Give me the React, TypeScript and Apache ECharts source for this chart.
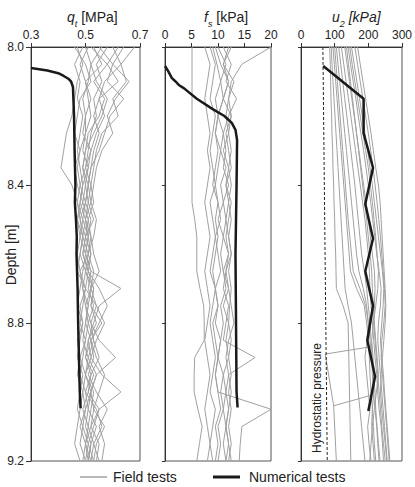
import React, { useEffect, useRef } from 'react';
import * as echarts from 'echarts';

// Shared depth grid for field tests [m]
const depthGrid = [8.0, 8.05, 8.1, 8.15, 8.2, 8.25, 8.3, 8.35, 8.4, 8.45, 8.5, 8.55, 8.6, 8.65, 8.7, 8.75, 8.8, 8.85, 8.9, 8.95, 9.0, 9.05, 9.1, 9.15, 9.2];

// q_t field tests [MPa]
const qtF1 = [0.52, 0.58, 0.62, 0.55, 0.57, 0.54, 0.52, 0.51, 0.50, 0.51, 0.50, 0.52, 0.51, 0.50, 0.53, 0.52, 0.54, 0.51, 0.52, 0.50, 0.53, 0.52, 0.51, 0.53, 0.52];
const qtF2 = [0.68, 0.63, 0.65, 0.60, 0.62, 0.56, 0.54, 0.53, 0.52, 0.53, 0.51, 0.52, 0.53, 0.55, 0.52, 0.50, 0.51, 0.53, 0.55, 0.52, 0.50, 0.54, 0.56, 0.53, 0.55];
const qtF3 = [0.47, 0.49, 0.47, 0.46, 0.45, 0.43, 0.42, 0.41, 0.45, 0.47, 0.48, 0.49, 0.48, 0.50, 0.49, 0.51, 0.50, 0.49, 0.51, 0.50, 0.49, 0.50, 0.48, 0.50, 0.49];
const qtF4 = [0.55, 0.60, 0.58, 0.64, 0.59, 0.57, 0.55, 0.52, 0.51, 0.50, 0.52, 0.51, 0.50, 0.52, 0.63, 0.55, 0.53, 0.51, 0.50, 0.52, 0.51, 0.49, 0.51, 0.50, 0.52];
const qtF5 = [0.49, 0.46, 0.48, 0.47, 0.49, 0.48, 0.47, 0.48, 0.49, 0.48, 0.50, 0.49, 0.51, 0.48, 0.49, 0.50, 0.52, 0.55, 0.61, 0.54, 0.52, 0.50, 0.49, 0.51, 0.50];
const qtF6 = [0.62, 0.58, 0.53, 0.57, 0.55, 0.51, 0.50, 0.49, 0.50, 0.49, 0.51, 0.50, 0.49, 0.51, 0.50, 0.54, 0.57, 0.54, 0.52, 0.56, 0.63, 0.55, 0.52, 0.50, 0.51];
const qtF7 = [0.50, 0.52, 0.51, 0.49, 0.50, 0.50, 0.48, 0.47, 0.48, 0.50, 0.49, 0.51, 0.50, 0.49, 0.48, 0.47, 0.49, 0.48, 0.47, 0.49, 0.48, 0.47, 0.49, 0.48, 0.50];
const qtF8 = [0.58, 0.54, 0.56, 0.53, 0.54, 0.52, 0.51, 0.50, 0.52, 0.51, 0.53, 0.50, 0.52, 0.51, 0.55, 0.58, 0.55, 0.52, 0.53, 0.51, 0.54, 0.58, 0.55, 0.57, 0.56];
const qtF9 = [0.46, 0.50, 0.52, 0.48, 0.47, 0.46, 0.48, 0.46, 0.47, 0.49, 0.47, 0.48, 0.47, 0.48, 0.50, 0.49, 0.48, 0.50, 0.49, 0.48, 0.50, 0.51, 0.50, 0.52, 0.51];
const qtF10 = [0.53, 0.56, 0.50, 0.52, 0.50, 0.49, 0.52, 0.50, 0.48, 0.47, 0.49, 0.48, 0.50, 0.52, 0.51, 0.53, 0.51, 0.50, 0.48, 0.50, 0.52, 0.53, 0.57, 0.54, 0.53];
const qtF11 = [0.60, 0.63, 0.57, 0.55, 0.53, 0.55, 0.53, 0.52, 0.51, 0.52, 0.50, 0.51, 0.52, 0.50, 0.52, 0.51, 0.50, 0.52, 0.54, 0.57, 0.55, 0.53, 0.52, 0.55, 0.54];
const qtF12 = [0.51, 0.48, 0.50, 0.51, 0.52, 0.50, 0.49, 0.51, 0.49, 0.48, 0.47, 0.49, 0.48, 0.47, 0.50, 0.48, 0.49, 0.47, 0.48, 0.47, 0.49, 0.48, 0.47, 0.46, 0.48];
const qtF13 = [0.56, 0.52, 0.54, 0.58, 0.56, 0.53, 0.50, 0.49, 0.51, 0.50, 0.48, 0.50, 0.49, 0.51, 0.53, 0.52, 0.56, 0.52, 0.50, 0.53, 0.51, 0.55, 0.53, 0.51, 0.53];
const qtF14 = [0.64, 0.60, 0.66, 0.61, 0.58, 0.60, 0.56, 0.54, 0.53, 0.52, 0.54, 0.53, 0.51, 0.53, 0.52, 0.54, 0.52, 0.53, 0.51, 0.54, 0.52, 0.51, 0.54, 0.52, 0.51];
const qtField = [qtF1, qtF2, qtF3, qtF4, qtF5, qtF6, qtF7, qtF8, qtF9, qtF10, qtF11, qtF12, qtF13, qtF14];

// f_s field tests [kPa]
const fsF1 = [5.1, 5.1, 5.1, 5.1, 5.1, 5.1, 5.1, 5.1, 5.1, 5.1, 5.6, 6, 6, 6, 6.6, 7.3, 7.4, 7.4, 5.6, 5.5, 5.5, 6.2, 7, 6.5, 6];
const fsF2 = [7.5, 8.5, 8, 7.5, 8, 8.5, 8, 8.5, 8, 7.5, 8, 8.5, 8, 7.5, 8, 8.5, 8, 7.5, 8, 8.5, 8, 7.5, 8, 8.5, 8];
const fsF3 = [8.5, 9.5, 9, 8.5, 9.5, 9, 8.5, 9, 9.5, 8.5, 9, 9.5, 9, 8.5, 9.5, 9, 8.5, 9, 9.5, 9, 8.5, 9.5, 9, 8.5, 9];
const fsF4 = [9, 9.8, 10.5, 9.5, 10, 9.5, 10.5, 10, 9.5, 10, 10.5, 9.5, 10, 10.5, 9.5, 10, 9.5, 10.5, 10, 9.5, 10, 10.5, 9.5, 10, 9.5];
const fsF5 = [10, 11.5, 10.5, 11, 10, 11, 10.5, 11.5, 10.5, 11, 10, 11, 10.5, 11, 11.5, 10.5, 11, 10.5, 10, 11, 10.5, 11, 10, 10.5, 10];
const fsF6 = [20, 14.5, 12.5, 12, 12.5, 12, 12.5, 12, 12.5, 12, 12.5, 12, 12.5, 12, 12.5, 12.2, 12, 12.5, 12, 12.5, 12, 12.5, 12, 12.5, 12];
const fsF7 = [12, 11, 13, 12, 11.5, 12, 11, 12, 11.5, 12.5, 12, 11.5, 12, 11, 12, 12.5, 13, 12, 11.5, 12, 12.5, 12, 11.5, 12, 11.5];
const fsF8 = [11, 12.5, 11.5, 13.5, 12, 11, 11.5, 11, 12, 11, 11.5, 11, 12, 11.5, 11, 12, 11.5, 11, 17, 12, 11.5, 11, 11.5, 11, 11.5];
const fsF9 = [9.5, 10.5, 12, 11, 10, 9.5, 10, 9.5, 9, 10, 9.5, 10, 9.5, 9, 9.5, 10, 9, 9.5, 10, 9.5, 10, 20, 14.5, 14.2, 14];
const fsF10 = [12.5, 11, 12, 11, 12.5, 11.5, 12, 12.5, 11.5, 12, 11.5, 12, 12.5, 11.5, 12, 11, 12, 11.5, 12, 11, 11.5, 12, 11.5, 12, 12.5];
const fsField = [fsF1, fsF2, fsF3, fsF4, fsF5, fsF6, fsF7, fsF8, fsF9, fsF10];

// u_2 field tests [kPa]
const u2F1 = [85, 87, 88, 89, 91, 92, 94, 95, 97, 98, 100, 101, 103, 104, 105, 125, 140, 141, 142, 143, 144, 145, 146, 147, 148];
const u2F2 = [95, 99, 103, 107, 111, 115, 119, 123, 127, 131, 135, 139, 143, 147, 165, 188, 195, 200, 203, 205, 208, 212, 215, 218, 222];
const u2F3 = [105, 110, 115, 120, 125, 130, 135, 140, 145, 150, 155, 160, 165, 172, 185, 195, 200, 205, 210, 212, 215, 220, 225, 228, 232];
const u2F4 = [112, 118, 124, 130, 136, 142, 148, 154, 160, 165, 170, 175, 180, 188, 195, 200, 205, 208, 212, 215, 220, 222, 226, 230, 235];
const u2F5 = [120, 127, 134, 141, 148, 155, 162, 169, 176, 183, 190, 195, 200, 203, 205, 208, 212, 216, 220, 225, 228, 232, 238, 242, 245];
const u2F6 = [130, 137, 144, 151, 158, 165, 172, 179, 186, 193, 200, 206, 212, 218, 220, 218, 216, 220, 224, 228, 232, 236, 240, 245, 250];
const u2F7 = [140, 147, 155, 163, 170, 178, 186, 193, 200, 207, 213, 219, 225, 232, 238, 236, 230, 228, 232, 236, 240, 244, 248, 252, 256];
const u2F8 = [150, 158, 166, 174, 182, 190, 198, 205, 212, 218, 224, 230, 236, 242, 246, 244, 240, 236, 240, 245, 248, 252, 256, 260, 264];
const u2F9 = [160, 168, 176, 184, 192, 200, 207, 214, 220, 226, 231, 236, 240, 244, 248, 250, 246, 240, 238, 242, 246, 250, 254, 258, 262];
const u2F10 = [168, 176, 184, 192, 200, 208, 215, 222, 230, 235, 238, 241, 244, 247, 250, 252, 250, 246, 242, 238, 236, 240, 245, 250, 255];
const u2F11 = [100, 104, 108, 112, 116, 120, 124, 128, 132, 136, 140, 145, 150, 155, 175, 192, 200, 196, 190, 195, 200, 205, 198, 202, 208];
const u2F12 = [135, 141, 147, 153, 159, 165, 171, 177, 183, 189, 195, 200, 205, 210, 212, 215, 218, 222, 226, 230, 224, 218, 212, 208, 204];
const u2F13 = [90, 92, 95, 98, 101, 104, 107, 110, 113, 116, 119, 122, 125, 128, 131, 140, 150, 155, 160, 165, 170, 175, 180, 185, 190];
const u2F14 = [145, 152, 160, 168, 176, 184, 192, 200, 206, 212, 217, 222, 226, 230, 228, 222, 215, 210, 214, 218, 216, 212, 210, 214, 218];
const u2Field = [u2F1, u2F2, u2F3, u2F4, u2F5, u2F6, u2F7, u2F8, u2F9, u2F10, u2F11, u2F12, u2F13, u2F14];

// odd u_2 traces crossing towards the hydrostatic line
const u2OddDepth = [8.87, 8.89, 9.04, 9.2];
const u2OddValue = [200, 72, 97, 105];
const u2Odd2Depth = [9.04, 9.01];
const u2Odd2Value = [97, 206];

// Hydrostatic pressure [kPa]
const hydroDepth = [8.0, 9.2];
const hydroValue = [65, 78];

// Numerical tests
const qtNumDepth = [8.061, 8.068, 8.076, 8.084, 8.092, 8.1, 8.116, 8.2, 8.3, 8.4, 8.45, 8.5, 8.55, 8.6, 8.7, 8.8, 8.9, 9.0, 9.047];
const qtNumValue = [0.3, 0.36, 0.4, 0.42, 0.437, 0.447, 0.454, 0.458, 0.46, 0.463, 0.461, 0.465, 0.468, 0.467, 0.471, 0.473, 0.476, 0.479, 0.482];
const fsNumDepth = [8.055, 8.07, 8.09, 8.1, 8.11, 8.12, 8.15, 8.18, 8.2, 8.22, 8.24, 8.27, 8.4, 8.6, 8.8, 9.0, 9.045];
const fsNumValue = [0, 0.6, 1.3, 2.0, 2.6, 3.6, 6.0, 9.0, 11.2, 12.6, 13.3, 13.6, 13.5, 13.3, 13.4, 13.5, 13.7];
const u2NumDepth = [8.055, 8.15, 8.25, 8.35, 8.455, 8.555, 8.65, 8.75, 8.85, 8.955, 9.055];
const u2NumValue = [66, 186, 186, 214, 191, 214, 191, 214, 197, 220, 200];

// Axis ticks
const depthTicks = { min: 8.0, max: 9.2, interval: 0.4 };
const qtTicks = { min: 0.3, max: 0.7, interval: 0.2 };
const fsTicks = { min: 0, max: 20, interval: 5 };
const u2Ticks = { min: 0, max: 300, interval: 100 };

// Legend labels
const legendLabels = ['Field tests', 'Numerical tests'];

const FONT = 'Liberation Sans, Arial, sans-serif';
const GREY = '#a0a0a0';
const BLACK = '#1a1a1a';

const pairs = (vals: number[], depths: number[]) => vals.map((v, i) => [v, depths[i]]);

function buildOption() {
  const grids = [
    { left: 31, top: 47, width: 109, height: 414 },
    { left: 165, top: 47, width: 106, height: 414 },
    { left: 301, top: 47, width: 105, height: 414 },
  ].map((g) => ({ ...g, show: true, borderColor: '#555', borderWidth: 1, backgroundColor: 'transparent' }));

  const xTicks = [qtTicks, fsTicks, u2Ticks];
  const xAxis = xTicks.map((t, i) => ({
    type: 'value',
    gridIndex: i,
    position: 'top',
    min: t.min,
    max: t.max,
    interval: t.interval,
    axisLine: { show: true, lineStyle: { color: '#333', width: 1 } },
    axisTick: { show: true, length: 4, lineStyle: { color: '#333' } },
    axisLabel: {
      show: true,
      margin: 6,
      fontSize: 12,
      color: '#222',
      fontFamily: FONT,
      formatter: i === 0 ? (v: number) => v.toFixed(1) : (v: number) => String(Math.round(v)),
    },
    splitLine: { show: false },
  }));

  const yAxis = [0, 1, 2].map((i) => ({
    type: 'value',
    gridIndex: i,
    inverse: true,
    min: depthTicks.min,
    max: depthTicks.max,
    interval: depthTicks.interval,
    axisLine: { show: true, lineStyle: { color: '#333', width: 1 } },
    axisTick: { show: true, length: i === 0 ? 5 : 3, lineStyle: { color: '#333' } },
    axisLabel: {
      show: i === 0,
      margin: 7,
      fontSize: 12,
      color: '#222',
      fontFamily: FONT,
      formatter: (v: number) => v.toFixed(1),
    },
    splitLine: { show: false },
  }));

  const fieldSeries = (arr: number[][], idx: number) =>
    arr.map((vals) => ({
      type: 'line',
      name: legendLabels[0],
      xAxisIndex: idx,
      yAxisIndex: idx,
      data: pairs(vals, depthGrid),
      symbol: 'none',
      lineStyle: { color: GREY, width: 1 },
      itemStyle: { color: GREY },
      z: 2,
    }));

  const numSeries = (vals: number[], depths: number[], idx: number) => ({
    type: 'line',
    name: legendLabels[1],
    xAxisIndex: idx,
    yAxisIndex: idx,
    data: pairs(vals, depths),
    symbol: 'none',
    lineStyle: { color: BLACK, width: 2.5 },
    itemStyle: { color: BLACK },
    z: 5,
  });

  const series: any[] = [
    ...fieldSeries(qtField, 0),
    ...fieldSeries(fsField, 1),
    ...fieldSeries(u2Field, 2),
    {
      type: 'line', name: legendLabels[0], xAxisIndex: 2, yAxisIndex: 2,
      data: pairs(u2OddValue, u2OddDepth), symbol: 'none',
      lineStyle: { color: GREY, width: 1 }, itemStyle: { color: GREY }, z: 2,
    },
    {
      type: 'line', name: legendLabels[0], xAxisIndex: 2, yAxisIndex: 2,
      data: pairs(u2Odd2Value, u2Odd2Depth), symbol: 'none',
      lineStyle: { color: GREY, width: 1 }, itemStyle: { color: GREY }, z: 2,
    },
    {
      type: 'line', name: 'Hydrostatic pressure', xAxisIndex: 2, yAxisIndex: 2,
      data: pairs(hydroValue, hydroDepth), symbol: 'none',
      lineStyle: { color: '#222', width: 1, type: [3, 2] }, itemStyle: { color: '#222' }, z: 3,
    },
    numSeries(qtNumValue, qtNumDepth, 0),
    numSeries(fsNumValue, fsNumDepth, 1),
    numSeries(u2NumValue, u2NumDepth, 2),
  ];

  const titleStyle = (italicUnit: boolean) => ({
    fontSize: 14,
    fontWeight: 'normal',
    color: '#222',
    fontFamily: FONT,
    lineHeight: 18,
    rich: {
      i: { fontSize: 14, fontStyle: 'italic', fontFamily: FONT, color: '#222', lineHeight: 18, verticalAlign: 'bottom' },
      s: { fontSize: 9, fontStyle: 'italic', fontFamily: FONT, color: '#222', lineHeight: 18, verticalAlign: 'bottom', padding: [0, 0, -4, 0] },
      u: { fontSize: 14, fontStyle: italicUnit ? 'italic' : 'normal', fontFamily: FONT, color: '#222', lineHeight: 18, verticalAlign: 'bottom' },
    },
  });

  const legendText = { font: '14px Liberation Sans, Arial, sans-serif', fill: '#222', textVerticalAlign: 'middle' };

  return {
    animation: false,
    backgroundColor: '#ffffff',
    grid: grids,
    xAxis,
    yAxis,
    series,
    title: [
      { text: '{i|q}{s|t}{u| [MPa]}', left: 67, top: 6, padding: 0, textStyle: titleStyle(false) },
      { text: '{i|f}{s|s}{u| [kPa]}', left: 204, top: 6, padding: 0, textStyle: titleStyle(false) },
      { text: '{i|u}{s|2}{u| [kPa]}', left: 332, top: 6, padding: 0, textStyle: titleStyle(true) },
    ],
    graphic: [
      {
        type: 'text',
        x: 11,
        y: 255,
        rotation: Math.PI / 2,
        style: { text: 'Depth [m]', font: '14px Liberation Sans, Arial, sans-serif', fill: '#222', textAlign: 'center', textVerticalAlign: 'middle' },
      },
      {
        type: 'text',
        x: 317,
        y: 398,
        rotation: Math.PI / 2,
        z: 10,
        style: { text: 'Hydrostatic pressure', font: '12px Liberation Sans, Arial, sans-serif', fill: '#222', textAlign: 'center', textVerticalAlign: 'middle' },
      },
      { type: 'line', shape: { x1: 80, y1: 477, x2: 107, y2: 477 }, style: { stroke: GREY, lineWidth: 1.5 } },
      { type: 'text', x: 113, y: 477, style: { ...legendText, text: legendLabels[0] } },
      { type: 'line', shape: { x1: 213, y1: 477, x2: 240, y2: 477 }, style: { stroke: BLACK, lineWidth: 3 } },
      { type: 'text', x: 249, y: 477, style: { ...legendText, text: legendLabels[1] } },
    ],
  };
}

export default function App() {
  const ref = useRef<HTMLDivElement>(null);
  useEffect(() => {
    if (!ref.current) return;
    const chart = echarts.init(ref.current, null, { renderer: 'svg' });
    chart.setOption(buildOption() as any);
    return () => chart.dispose();
  }, []);
  return <div ref={ref} style={{ position: 'absolute', left: 0, top: 0, width: 415, height: 487 }} />;
}
